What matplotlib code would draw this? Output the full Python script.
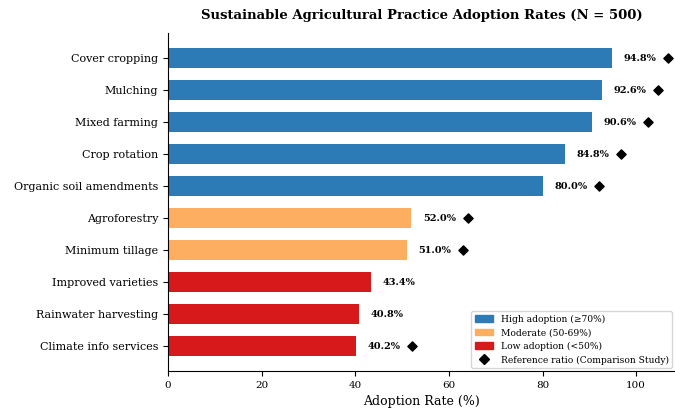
import matplotlib
matplotlib.use("Agg")
import matplotlib.pyplot as plt
from matplotlib.patches import Patch
from matplotlib.lines import Line2D

plt.rcParams['font.family'] = 'DejaVu Serif'

practices = ["Cover cropping", "Mulching", "Mixed farming", "Crop rotation",
             "Organic soil amendments", "Agroforestry", "Minimum tillage",
             "Improved varieties", "Rainwater harvesting", "Climate info services"]
adoption = [94.8, 92.6, 90.6, 84.8, 80.0, 52.0, 51.0, 43.4, 40.8, 40.2]
# reference markers (None = no marker)
reference = [106.8, 104.6, 102.6, 96.8, 92.0, 64.0, 63.0, None, None, 52.2]

high_col = "#2c7bb6"
mod_col = "#fdae61"
low_col = "#d7191c"


def pick_color(v):
    if v >= 70:
        return high_col
    if v >= 50:
        return mod_col
    return low_col


fig, ax = plt.subplots(figsize=(6.75, 4.09), dpi=100)
fig.subplots_adjust(left=0.249, right=1.0, bottom=0.093, top=0.919)

y_pos = list(range(len(practices)))
colors = [pick_color(v) for v in adoption]
ax.barh(y_pos, adoption, height=0.6, color=colors)

for y, v in zip(y_pos, adoption):
    ax.text(v + 2.5, y, f"{v:.1f}%", va="center", ha="left",
            fontsize=7, fontweight="bold")

ref_y = [y for y, r in zip(y_pos, reference) if r is not None]
ref_x = [r for r in reference if r is not None]
ax.scatter(ref_x, ref_y, marker="D", color="black", s=22, zorder=3,
           clip_on=False)

ax.set_yticks(y_pos)
ax.set_yticklabels(practices, fontsize=8)
ax.invert_yaxis()
ax.set_xlim(0, 108.3)
ax.set_xticks([0, 20, 40, 60, 80, 100])
ax.tick_params(axis="x", labelsize=7.5)
ax.set_xlabel("Adoption Rate (%)", fontsize=9)
ax.set_title("Sustainable Agricultural Practice Adoption Rates (N = 500)",
             fontsize=9.5, fontweight="bold", pad=10)

ax.spines["top"].set_visible(False)
ax.spines["right"].set_visible(False)

handles = [Patch(color=high_col, label="High adoption (\u226570%)"),
           Patch(color=mod_col, label="Moderate (50-69%)"),
           Patch(color=low_col, label="Low adoption (<50%)"),
           Line2D([], [], marker="D", color="black", linestyle="none",
                  markersize=5, label="Reference ratio (Comparison Study)")]
ax.legend(handles=handles, loc="lower right", fontsize=6.6, frameon=True,
          borderaxespad=0.3)

fig.savefig("out.png", dpi=100)
